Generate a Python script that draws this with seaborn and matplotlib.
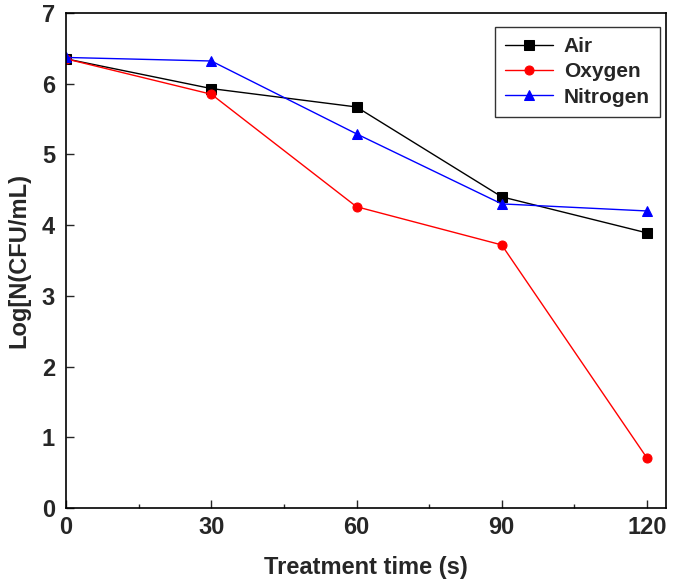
import numpy as np
import pandas as pd
import matplotlib
matplotlib.use("Agg")
import matplotlib.pyplot as plt
import seaborn as sns
from matplotlib.ticker import MultipleLocator

time_s = [0, 30, 60, 90, 120]
air = [6.35, 5.93, 5.67, 4.40, 3.89]
oxygen = [6.35, 5.85, 4.26, 3.72, 0.71]
nitrogen = [6.37, 6.32, 5.29, 4.30, 4.20]

series = [("Air", air, "black", "s"),
          ("Oxygen", oxygen, "red", "o"),
          ("Nitrogen", nitrogen, "blue", "^")]

sns.set_style("ticks")
plt.rcParams['font.family'] = ['Liberation Sans', 'DejaVu Sans']

fig, ax = plt.subplots(figsize=(6.75, 5.86), dpi=100)
fig.subplots_adjust(left=0.098, right=0.987, top=0.978, bottom=0.133)

for name, vals, col, mk in series:
    df = pd.DataFrame({"t": time_s, "v": vals})
    sns.lineplot(data=df, x="t", y="v", color=col, marker=mk, markersize=6.5,
                 markeredgecolor=col, lw=1, label=name, ax=ax)

ax.set_xlim(0, 124)
ax.set_ylim(0, 7)
ax.xaxis.set_major_locator(MultipleLocator(30))
ax.xaxis.set_minor_locator(MultipleLocator(15))
ax.yaxis.set_major_locator(MultipleLocator(1))
ax.tick_params(axis='both', which='both', direction='in', top=False, right=False)
ax.tick_params(axis='both', which='major', length=6, width=1, labelsize=17)
ax.tick_params(axis='x', which='minor', length=3, width=1)
ax.tick_params(axis='x', pad=6)
ax.tick_params(axis='y', pad=8)
for lab in ax.get_xticklabels() + ax.get_yticklabels():
    lab.set_fontweight('bold')
for sp in ax.spines.values():
    sp.set_linewidth(1.2)
    sp.set_color('black')

ax.set_xlabel("Treatment time (s)", fontsize=17, fontweight='bold', labelpad=12)
ax.set_ylabel("Log[N(CFU/mL)", fontsize=17, fontweight='bold', labelpad=8)

leg = ax.legend(loc='upper right', bbox_to_anchor=(0.99, 0.972), borderaxespad=0,
                fontsize=15, frameon=True, fancybox=False, edgecolor='black',
                handlelength=2.3, handletextpad=0.5, borderpad=0.5,
                labelspacing=0.3)
leg.get_frame().set_linewidth(1)
for t in leg.get_texts():
    t.set_fontweight('bold')

fig.savefig("out.png", dpi=100)
